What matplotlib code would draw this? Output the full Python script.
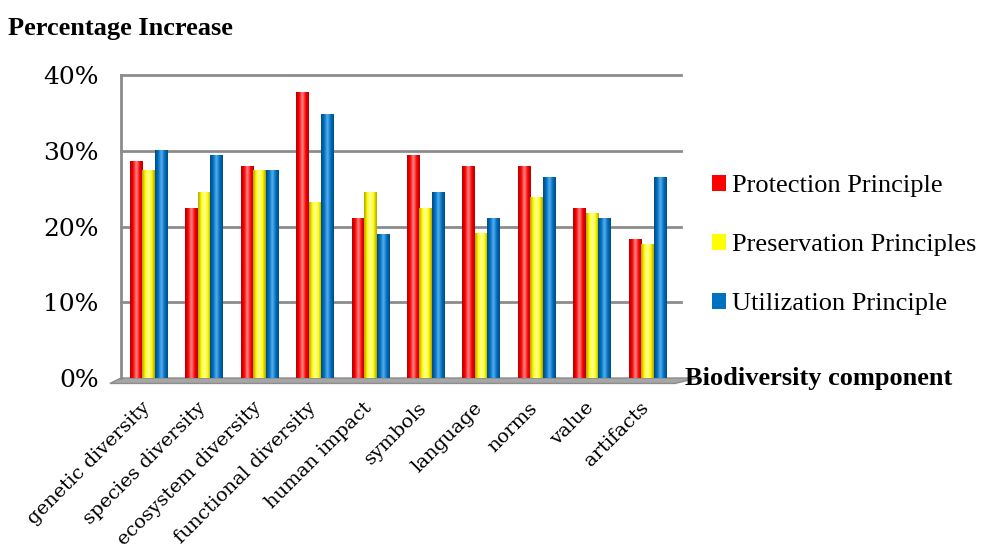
import matplotlib
matplotlib.use("Agg")
import matplotlib.pyplot as plt
import numpy as np
from matplotlib.colors import LinearSegmentedColormap
from matplotlib.patches import Polygon

plt.rcParams['font.family'] = ['Liberation Serif', 'DejaVu Serif']

categories = ["genetic diversity", "species diversity", "ecosystem diversity",
              "functional diversity", "human impact", "symbols", "language",
              "norms", "value", "artifacts"]
series_names = ["Protection Principle", "Preservation Principles", "Utilization Principle"]
protection = [28.7, 22.5, 28.0, 37.7, 21.1, 29.4, 28.0, 28.0, 22.5, 18.3]
preservation = [27.4, 24.6, 27.4, 23.2, 24.6, 22.5, 19.1, 23.9, 21.8, 17.7]
utilization = [30.1, 29.4, 27.4, 34.9, 19.0, 24.6, 21.1, 26.6, 21.1, 26.6]
y_ticks = [0, 10, 20, 30, 40]

colors = ["#ff0000", "#ffff00", "#0070c0"]
dark = ["#b00000", "#b0a000", "#004a80"]
light = ["#ff9090", "#ffffb0", "#5ab0f0"]

fig = plt.figure(figsize=(9.81, 5.52), dpi=100)
ax = fig.add_axes([121 / 981, 1 - 378 / 552, (675 - 121) / 981, (378 - 75) / 552])

x = np.arange(len(categories))
width = 0.225
values = [protection, preservation, utilization]

# grid lines (back wall)
for t in y_ticks[1:]:
    ax.axhline(t, color="#8c8c8c", lw=2, zorder=0, xmax=1.01, clip_on=False)

for i, vals in enumerate(values):
    bars = ax.bar(x + (i - 1) * width, vals, width=width, color=colors[i],
                  label=series_names[i], zorder=2, edgecolor="none")
    cmap = LinearSegmentedColormap.from_list(
        "c%d" % i, [dark[i], colors[i], light[i], colors[i], dark[i]])
    grad = np.linspace(0, 1, 64).reshape(1, -1)
    for b in bars:
        bx, bw, bh = b.get_x(), b.get_width(), b.get_height()
        im = ax.imshow(grad, cmap=cmap, extent=(bx, bx + bw, 0, bh),
                       aspect="auto", zorder=3, interpolation="bicubic")
        im.set_clip_path(b)

# floor
floor = Polygon([(-0.02, -0.018), (1.0, -0.018), (1.04, 0.0), (0.0, 0.0)],
                closed=True, transform=ax.transAxes, facecolor="#a6a6a6",
                edgecolor="#8c8c8c", clip_on=False, zorder=1)
ax.add_patch(floor)

ax.set_xlim(-0.5, len(categories) - 0.5)
ax.set_ylim(0, 40)
ax.set_yticks(y_ticks)
ax.set_yticklabels([f"{t}%" for t in y_ticks], fontsize=18, family="DejaVu Serif")
ax.set_xticks(x - 0.14)
ax.set_xticklabels(categories, rotation=45, ha="right", va="top",
                   rotation_mode="anchor", fontsize=14, family="DejaVu Serif")
ax.tick_params(axis="y", length=0, pad=16)
ax.tick_params(axis="x", length=0, pad=15)

for s in ["top", "right", "bottom"]:
    ax.spines[s].set_visible(False)
ax.spines["left"].set_color("#8c8c8c")
ax.spines["left"].set_linewidth(2)

fig.text(8 / 981, 1 - 28 / 552, "Percentage Increase", fontsize=19,
         fontweight="bold", va="center", ha="left")
fig.text(685 / 981, 1 - 378 / 552, "Biodiversity component", fontsize=19,
         fontweight="bold", va="center", ha="left")

handles, labels = ax.get_legend_handles_labels()
fig.legend(handles, labels, loc="center left", bbox_to_anchor=(688 / 981, 1 - 245 / 552),
           frameon=False, fontsize=19, handlelength=0.55, handleheight=0.55,
           handletextpad=0.2, labelspacing=1.4)

plt.savefig("out.png", dpi=100)
plt.close()
